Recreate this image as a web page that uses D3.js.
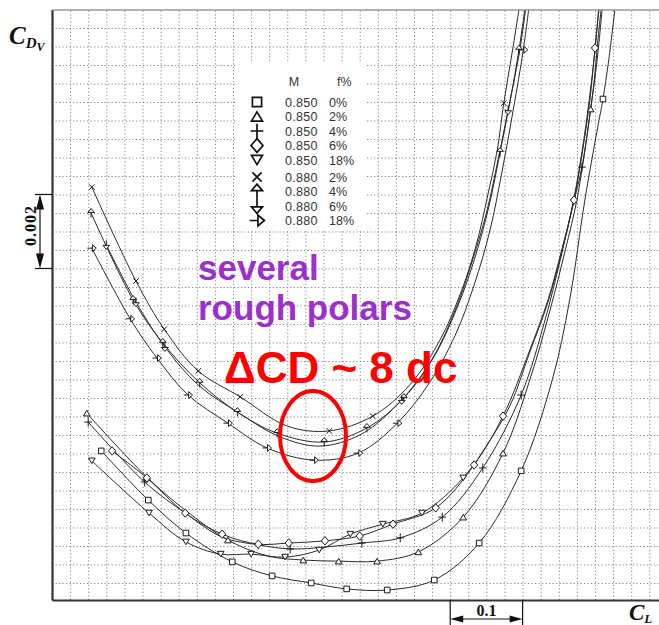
<!DOCTYPE html>
<html>
<head>
<meta charset="utf-8">
<script src="https://cdn.jsdelivr.net/npm/d3@7"></script>
<style>
  body { margin: 0; background: #fff; }
  svg { display: block; }
</style>
</head>
<body>
<script>
// polar points: [CL, CD in drag counts (1 dc = 0.0001), measured point shown with marker]
const m850_f0 = [[0.318,115.7,1],[0.383,102.4,1],[0.435,93.5,1],[0.499,85.7,1],[0.554,81.9,1],[0.608,80.0,1],[0.657,78.4,1],[0.713,78.1,1],[0.778,80.8,1],[0.840,90.8,1],[0.898,110.3,1],[0.941,134.9,0],[0.965,156.5,0],[0.986,183.5,0],[1.003,202.4,0],[1.011,210.8,1],[1.019,221.4,0],[1.029,237.6,0]];
const m850_f2 = [[0.298,125.9,1],[0.381,108.6,1],[0.434,99.7,0],[0.493,91.6,1],[0.548,87.3,0],[0.597,86.2,1],[0.646,85.9,1],[0.699,85.9,1],[0.756,88.4,1],[0.818,97.8,1],[0.873,115.1,1],[0.910,134.9,0],[0.938,153.8,0],[0.959,170.0,0],[0.975,183.5,0],[0.986,197.0,0],[0.994,208.1,1],[1.003,221.4,0],[1.011,237.6,0]];
const m850_f4 = [[0.300,123.5,1],[0.378,107.3,1],[0.434,98.9,0],[0.485,92.4,0],[0.535,90.3,1],[0.579,89.2,1],[0.627,89.7,0],[0.678,90.8,1],[0.731,92.2,1],[0.789,97.8,1],[0.845,111.1,1],[0.898,130.8,1],[0.931,151.1,0],[0.952,167.3,0],[0.968,180.8,0],[0.982,192.4,1],[0.992,205.1,0],[0.999,215.9,0],[1.004,226.8,0],[1.010,237.6,0]];
const m850_f6 = [[0.333,115.7,1],[0.381,108.4,1],[0.434,98.9,1],[0.485,93.2,1],[0.535,90.5,1],[0.577,90.8,1],[0.627,91.4,1],[0.675,92.7,1],[0.721,95.9,1],[0.780,100.3,1],[0.833,111.9,1],[0.873,125.1,1],[0.910,143.0,0],[0.935,156.5,0],[0.954,170.0,0],[0.971,183.5,1],[0.983,197.0,0],[0.993,210.5,0],[1.000,224.6,1],[1.007,237.6,0]];
const m850_f18 = [[0.305,113.0,1],[0.384,98.9,1],[0.435,91.1,1],[0.483,87.8,1],[0.525,87.8,1],[0.572,87.0,1],[0.619,88.9,1],[0.662,93.2,1],[0.707,95.9,1],[0.761,98.9,1],[0.818,108.4,1],[0.855,118.6,0],[0.883,128.1,0],[0.910,142.4,0],[0.935,155.9,0],[0.954,169.5,0],[0.970,183.0,0],[0.982,196.5,0],[0.992,210.5,0],[1.000,224.1,0],[1.006,237.6,0]];
const m880_f2 = [[0.305,187.0,1],[0.366,161.6,1],[0.405,148.6,1],[0.452,137.3,1],[0.510,130.3,1],[0.575,122.4,0],[0.633,121.1,1],[0.693,125.1,1],[0.744,133.5,0],[0.786,145.7,0],[0.816,159.2,0],[0.836,171.4,0],[0.852,184.9,0],[0.865,197.0,0],[0.874,209.7,1],[0.885,222.7,0],[0.896,236.2,0]];
const m880_f4 = [[0.304,180.0,1],[0.362,156.5,1],[0.403,144.9,1],[0.454,134.1,1],[0.506,126.2,1],[0.561,120.5,1],[0.626,118.1,1],[0.685,121.9,1],[0.736,130.0,1],[0.779,141.6,0],[0.811,155.1,0],[0.834,167.8,0],[0.854,182.2,0],[0.869,196.5,1],[0.883,210.5,0],[0.895,224.1,1],[0.905,237.6,0]];
const m880_f6 = [[0.325,171.4,1],[0.366,155.9,1],[0.406,143.8,1],[0.452,133.5,0],[0.510,125.7,0],[0.565,119.5,0],[0.620,117.0,0],[0.678,120.3,0],[0.733,129.5,1],[0.776,140.8,0],[0.808,154.3,0],[0.831,167.3,0],[0.851,180.8,0],[0.866,194.3,0],[0.880,207.8,1],[0.895,222.7,0],[0.906,237.6,0]];
const m880_f18 = [[0.305,170.5,1],[0.358,151.4,1],[0.395,140.8,1],[0.438,130.8,1],[0.493,123.2,1],[0.547,116.5,1],[0.612,113.2,1],[0.673,115.1,1],[0.727,123.2,1],[0.772,134.3,0],[0.807,147.0,0],[0.833,160.5,0],[0.855,175.4,0],[0.872,191.6,0],[0.887,207.8,0],[0.901,224.1,1],[0.910,237.6,0]];

// legend
const legendSym = ['square', 'triUp', 'plus', 'diamond', 'triDown', 'cross', 'arrowUp', 'arrowDown', 'arrowRight'];
const legendMach = ['0.850', '0.850', '0.850', '0.850', '0.850', '0.880', '0.880', '0.880', '0.880'];
const legendRough = ['0%', '2%', '4%', '6%', '18%', '2%', '4%', '6%', '18%'];
const polars = [m850_f0, m850_f2, m850_f4, m850_f6, m850_f18, m880_f2, m880_f4, m880_f6, m880_f18];

// grid every 0.025 in CL and 5 counts in CD
const xGrid = d3.range(1, 34).map(k => 0.25 + 0.025 * k);
const yGrid = d3.range(0, 31).map(k => 80 + 5 * k);

const width = 659, height = 625;

const x = d3.scaleLinear().domain([0.25, 1.09]).range([52, 660.16]);
const y = d3.scaleLinear().domain([75.4, 235]).range([600, 9.5]);

const svg = d3.select('body').append('svg')
  .attr('width', width)
  .attr('height', height)
  .style('background', '#fff');

svg.append('clipPath').attr('id', 'plot')
  .append('rect')
  .attr('x', x(0.25)).attr('y', y(235))
  .attr('width', x(1.09) - x(0.25)).attr('height', y(75.4) - y(235));

// dotted grid
const gx = svg.append('g')
  .attr('transform', `translate(0,${y(75.4)})`)
  .call(d3.axisBottom(x).tickValues(xGrid).tickSize(-(y(75.4) - y(235))).tickFormat(''));
const gy = svg.append('g')
  .attr('transform', `translate(${x(0.25)},0)`)
  .call(d3.axisLeft(y).tickValues(yGrid).tickSize(-(x(1.09) - x(0.25))).tickFormat(''));
[gx, gy].forEach(g => {
  g.select('.domain').remove();
  g.selectAll('.tick line')
    .attr('stroke', '#858585')
    .attr('stroke-width', 1)
    .attr('stroke-dasharray', '1.2,2.3');
});

// legend background hides the grid
svg.append('rect')
  .attr('x', 236).attr('y', 63)
  .attr('width', 130).attr('height', 168)
  .attr('fill', '#fff');

function symPath(type, r) {
  switch (type) {
    case 'square': return `M${-r},${-r}h${2 * r}v${2 * r}h${-2 * r}Z`;
    case 'triUp': return `M0,${-r}L${1.2 * r},${r}L${-1.2 * r},${r}Z`;
    case 'triDown': return `M0,${r}L${1.2 * r},${-r}L${-1.2 * r},${-r}Z`;
    case 'plus': return `M${-1.4 * r},0H${1.4 * r}M0,${-1.6 * r}V${1.6 * r}`;
    case 'diamond': return `M0,${-1.5 * r}L${1.3 * r},0L0,${1.5 * r}L${-1.3 * r},0Z`;
    case 'cross': return `M${-r},${-r}L${r},${r}M${r},${-r}L${-r},${r}`;
    case 'arrowUp': return `M0,${-1.6 * r}L${1.2 * r},${-0.2 * r}L${-1.2 * r},${-0.2 * r}ZM0,${-0.2 * r}V${1.6 * r}`;
    case 'arrowDown': return `M0,${1.6 * r}L${1.2 * r},${0.2 * r}L${-1.2 * r},${0.2 * r}ZM0,${0.2 * r}V${-1.6 * r}`;
    case 'arrowRight': return `M${1.6 * r},0L${0.2 * r},${-1.2 * r}L${0.2 * r},${1.2 * r}ZM${0.2 * r},0H${-1.6 * r}`;
  }
}

const line = d3.line()
  .x(d => x(d[0]))
  .y(d => y(d[1]))
  .curve(d3.curveCatmullRom.alpha(0.5));

const plot = svg.append('g').attr('clip-path', 'url(#plot)');

polars.forEach((p, i) => {
  plot.append('path')
    .attr('d', line(p))
    .attr('fill', 'none')
    .attr('stroke', '#2a2a2a')
    .attr('stroke-width', 1);
});

polars.forEach((p, i) => {
  plot.selectAll(null)
    .data(p.filter(d => d[2]))
    .enter()
    .append('path')
    .attr('transform', d => `translate(${x(d[0])},${y(d[1])})`)
    .attr('d', symPath(legendSym[i], 2.8))
    .attr('fill', '#fff')
    .attr('stroke', '#1a1a1a')
    .attr('stroke-width', 1);
});

// frame
svg.append('g')
  .attr('transform', `translate(${x(0.25)},0)`)
  .call(d3.axisLeft(y).tickValues([]).tickSizeOuter(0))
  .select('.domain').attr('stroke', '#333').attr('stroke-width', 2.2);
svg.append('g')
  .attr('transform', `translate(0,${y(75.4)})`)
  .call(d3.axisBottom(x).tickValues([]).tickSizeOuter(0))
  .select('.domain').attr('stroke', '#333').attr('stroke-width', 2);
svg.append('g')
  .attr('transform', `translate(0,${y(235)})`)
  .call(d3.axisTop(x).tickValues([]).tickSizeOuter(0))
  .select('.domain').attr('stroke', '#999').attr('stroke-width', 1.5);

// legend
const lg = svg.append('g')
  .style('font-family', '"Liberation Sans", Arial, sans-serif')
  .style('font-size', '12.5px')
  .attr('fill', '#333');
lg.append('text').attr('x', 294).attr('y', 86).attr('text-anchor', 'middle').text('M');
lg.append('text').attr('x', 337).attr('y', 86).text('f%');
legendSym.forEach((s, i) => {
  const cy = 102 + 14.5 * i + (i >= 5 ? 2.5 : 0);
  lg.append('path')
    .attr('transform', `translate(257,${cy})`)
    .attr('d', symPath(s, 4.6))
    .attr('fill', 'none')
    .attr('stroke', '#111')
    .attr('stroke-width', 1.7);
  lg.append('text').attr('x', 285).attr('y', cy + 4.5).style('letter-spacing', '0.3px').text(legendMach[i]);
  lg.append('text').attr('x', 329).attr('y', cy + 4.5).text(legendRough[i]);
});

// axis labels and scale bars
const serif = '"Liberation Serif", "Times New Roman", serif';
const cdv = svg.append('text')
  .attr('x', 9).attr('y', 44)
  .style('font-family', serif).style('font-weight', 'bold').style('font-style', 'italic')
  .attr('fill', '#111');
cdv.append('tspan').style('font-size', '25px').text('C');
cdv.append('tspan').style('font-size', '15px').attr('dy', 4).text('D');
cdv.append('tspan').style('font-size', '12px').attr('dy', 3).text('V');

const cl = svg.append('text')
  .attr('x', 629).attr('y', 620)
  .style('font-family', serif).style('font-weight', 'bold').style('font-style', 'italic')
  .attr('fill', '#111');
cl.append('tspan').style('font-size', '23px').text('C');
cl.append('tspan').style('font-size', '13px').attr('dy', 3).text('L');

const ink = '#111';
// 0.002 bar
const cdTop = y(185), cdBot = y(165);
[cdTop, cdBot].forEach(v => {
  svg.append('line').attr('x1', 35).attr('x2', 52).attr('y1', v).attr('y2', v)
    .attr('stroke', ink).attr('stroke-width', 1.2);
});
svg.append('line').attr('x1', 40).attr('x2', 40).attr('y1', cdTop + 10).attr('y2', cdBot - 10)
  .attr('stroke', ink).attr('stroke-width', 1.2);
svg.append('path').attr('d', `M40,${cdTop}L44,${cdTop + 15}L36,${cdTop + 15}Z`).attr('fill', ink);
svg.append('path').attr('d', `M40,${cdBot}L44,${cdBot - 15}L36,${cdBot - 15}Z`).attr('fill', ink);
svg.append('text')
  .attr('transform', `translate(36,${(cdTop + cdBot) / 2 - 6}) rotate(-90)`)
  .attr('text-anchor', 'middle')
  .style('font-family', serif).style('font-weight', 'bold').style('font-size', '16px')
  .style('letter-spacing', '1px')
  .attr('fill', ink)
  .text('0.002');

// 0.1 bar
const clL = x(0.8), clR = x(0.9);
[clL, clR].forEach(v => {
  svg.append('line').attr('x1', v).attr('x2', v).attr('y1', 600).attr('y2', 625)
    .attr('stroke', ink).attr('stroke-width', 1.2);
});
svg.append('line').attr('x1', clL + 10).attr('x2', clR - 10).attr('y1', 619).attr('y2', 619)
  .attr('stroke', ink).attr('stroke-width', 1.2);
svg.append('path').attr('d', `M${clL},619L${clL + 13},615.5L${clL + 13},622.5Z`).attr('fill', ink);
svg.append('path').attr('d', `M${clR},619L${clR - 13},615.5L${clR - 13},622.5Z`).attr('fill', ink);
svg.append('text')
  .attr('x', (clL + clR) / 2).attr('y', 616)
  .attr('text-anchor', 'middle')
  .style('font-family', serif).style('font-weight', 'bold').style('font-size', '16px')
  .attr('fill', ink)
  .text('0.1');

// annotations
const note = svg.append('g').style('font-family', '"Liberation Sans", Arial, sans-serif').style('font-weight', 'bold');
note.append('text').attr('x', 198).attr('y', 280).style('font-size', '35px').attr('fill', '#9b30cc').text('several');
note.append('text').attr('x', 198).attr('y', 320).style('font-size', '35px').attr('fill', '#9b30cc').text('rough polars');
note.append('text').attr('x', 224).attr('y', 383).style('font-size', '44px').attr('fill', '#ff0000').text('\u0394CD ~ 8 dc');

svg.append('ellipse')
  .attr('cx', 313).attr('cy', 436)
  .attr('rx', 33).attr('ry', 45)
  .attr('fill', 'none')
  .attr('stroke', '#ff0000')
  .attr('stroke-width', 4);
</script>
</body>
</html>
